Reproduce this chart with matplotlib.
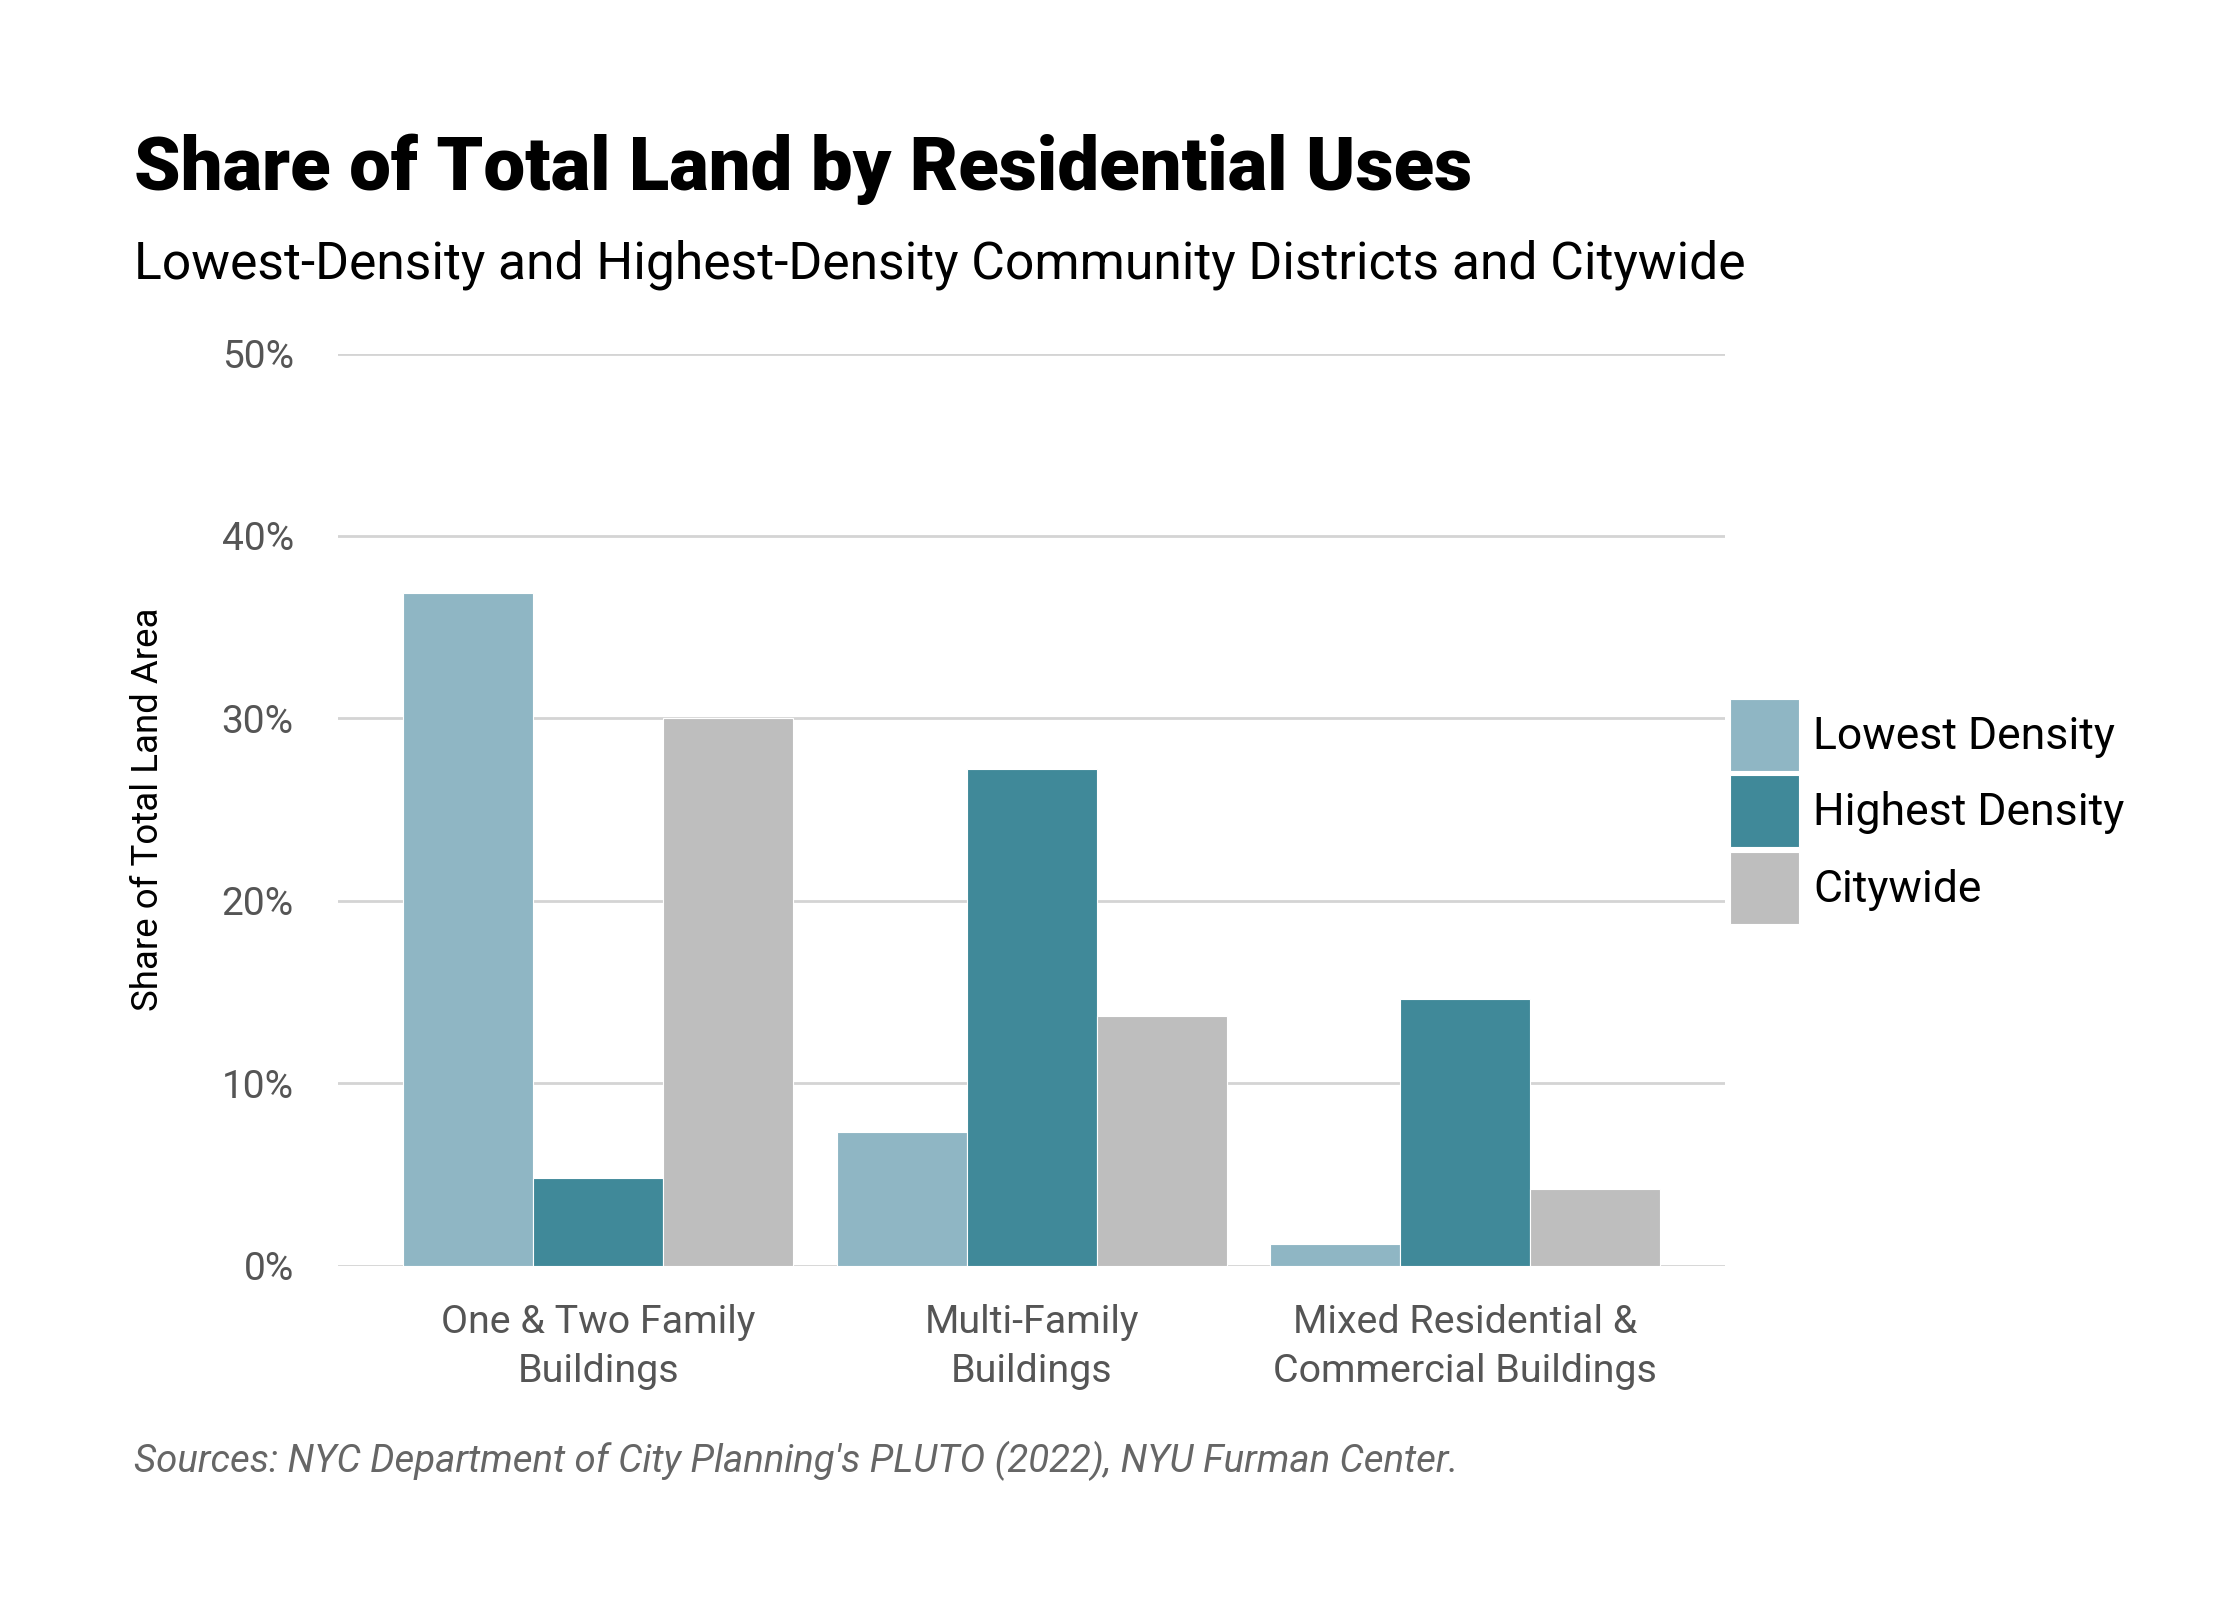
import matplotlib
matplotlib.use("Agg")
import matplotlib.pyplot as plt
import numpy as np

categories = ["One & Two Family\nBuildings", "Multi-Family\nBuildings", "Mixed Residential &\nCommercial Buildings"]
series_names = ["Lowest Density", "Highest Density", "Citywide"]
lowest = [36.9, 7.3, 1.2]
highest = [4.8, 27.2, 14.6]
citywide = [30.0, 13.7, 4.2]
yticks = [0, 10, 20, 30, 40, 50]
ytick_labels = ["0%", "10%", "20%", "30%", "40%", "50%"]

colors = ["#8fb6c4", "#408999", "#bebebe"]
FONT = "Roboto"
plt.rcParams['font.family'] = [FONT, 'DejaVu Sans']

fig = plt.figure(figsize=(11.2, 8), dpi=200)
ax = fig.add_axes([0.151, 0.209, 0.770 - 0.151, 0.779 - 0.209])

x = np.arange(len(categories))
w = 0.3
for i, (vals, name) in enumerate(zip([lowest, highest, citywide], series_names)):
    ax.bar(x + (i - 1) * w, vals, width=w, color=colors[i], label=name,
           edgecolor="white", linewidth=0.4, zorder=3)

ax.set_xlim(-0.6, 2.6)
ax.set_ylim(0, 50)
ax.set_yticks(yticks)
ax.set_yticklabels(ytick_labels, color="#555555", fontsize=14)
ax.set_xticks(x)
ax.set_xticklabels(categories, color="#555555", fontsize=14.2, linespacing=1.38)
ax.tick_params(axis="both", length=0)
ax.tick_params(axis="y", pad=16)
ax.tick_params(axis="x", pad=14)
ax.grid(axis="y", color="#d4d4d4", linewidth=1.0, zorder=0)
for s in ax.spines.values():
    s.set_visible(False)

fig.text(0.066, 0.494, "Share of Total Land Area", rotation=90, ha="center", va="center",
         fontsize=13.2, color="black")

fig.text(0.0596, 0.881, "Share of Total Land by Residential Uses", fontsize=26.8,
         fontweight="black", ha="left", va="baseline")
fig.text(0.0596, 0.826, "Lowest-Density and Highest-Density Community Districts and Citywide",
         fontsize=18.6, ha="left", va="baseline")
fig.text(0.0596, 0.080, "Sources: NYC Department of City Planning's PLUTO (2022), NYU Furman Center.",
         fontsize=13.8, style="italic", color="#666666", ha="left", va="baseline")

leg = fig.legend(loc="center left", bbox_to_anchor=(0.7724, 0.493), frameon=False,
                 fontsize=16, handlelength=1.55, handleheight=2.12, labelspacing=0.1,
                 handletextpad=0.32, borderpad=0, borderaxespad=0)

fig.savefig("out.png", dpi=200, facecolor="white")
